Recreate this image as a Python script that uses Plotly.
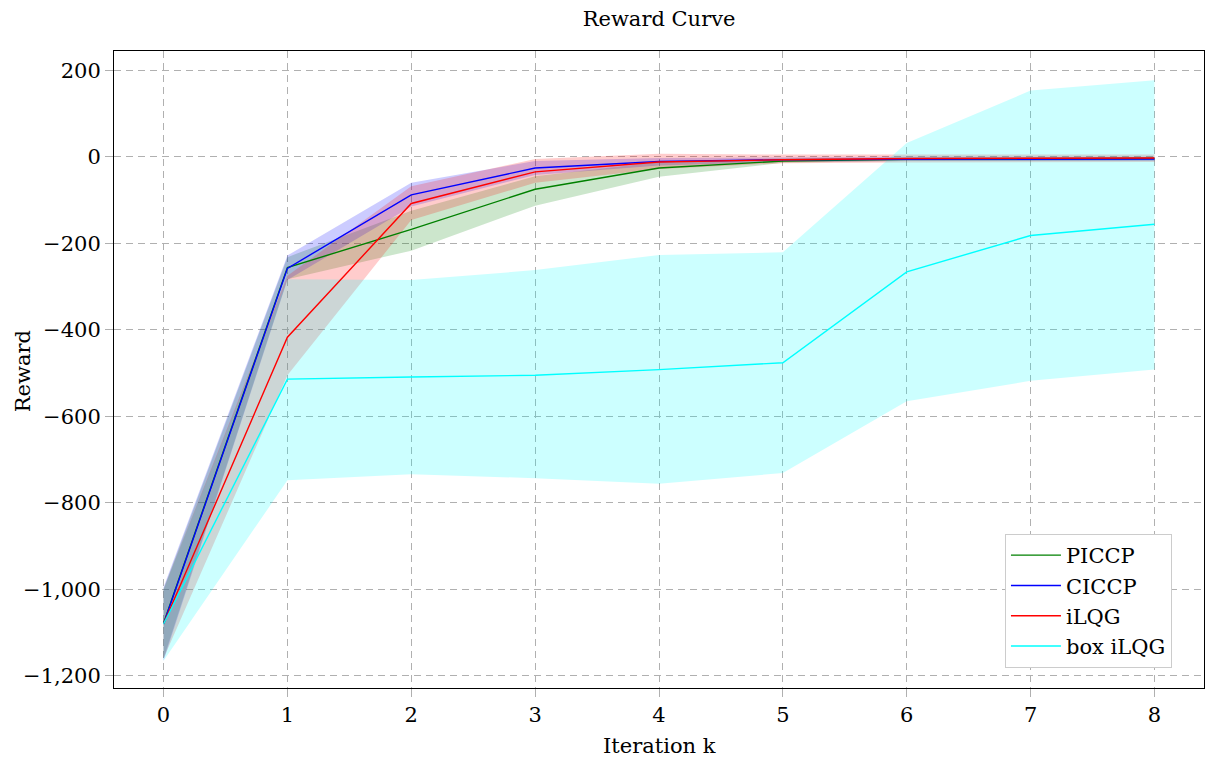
import plotly.graph_objects as go

# Iterations of the optimiser
iterations = [0, 1, 2, 3, 4, 5, 6, 7, 8]

# Mean reward and spread per method
piccp_mean = [-1078, -256, -168, -75, -26, -10, -6, -5, -4]
piccp_upper = [-1000, -232, -125, -45, -12, -4, -2, -2, -1]
piccp_lower = [-1160, -283, -217, -113, -46, -14, -10, -9, -8]

ciccp_mean = [-1080, -258, -88, -26, -11, -7, -6, -5, -5]
ciccp_upper = [-995, -228, -60, -10, -3, -1, 0, 0, 0]
ciccp_lower = [-1165, -285, -115, -42, -20, -12, -10, -10, -10]

ilqg_mean = [-1080, -417, -108, -35, -12, -7, -4, -3, -3]
ilqg_upper = [-1000, -275, -68, -5, 7, 5, 5, 5, 5]
ilqg_lower = [-1160, -505, -146, -60, -28, -15, -13, -12, -12]

box_mean = [-1080, -514, -509, -505, -492, -476, -266, -182, -156]
box_upper = [-1000, -283, -285, -262, -227, -221, 32, 153, 177]
box_lower = [-1165, -748, -734, -743, -756, -731, -565, -518, -492]

x_ticks = [0, 1, 2, 3, 4, 5, 6, 7, 8]
y_ticks = [-1200, -1000, -800, -600, -400, -200, 0, 200]


def tick_text(v):
    s = f"{abs(v):,}"
    return ("\u2212" + s) if v < 0 else s


FONT = "DejaVu Serif"

series = [
    ("PICCP", piccp_mean, piccp_upper, piccp_lower, "#008000", "rgba(0,128,0,0.2)"),
    ("CICCP", ciccp_mean, ciccp_upper, ciccp_lower, "#0000ff", "rgba(0,0,255,0.2)"),
    ("iLQG", ilqg_mean, ilqg_upper, ilqg_lower, "#ff0000", "rgba(255,0,0,0.2)"),
    ("box iLQG", box_mean, box_upper, box_lower, "#00ffff", "rgba(0,255,255,0.2)"),
]

fig = go.Figure()

# shaded spread bands
for name, mean, upper, lower, color, fill in series:
    fig.add_trace(go.Scatter(
        x=iterations + iterations[::-1],
        y=upper + lower[::-1],
        fill="toself",
        fillcolor=fill,
        line=dict(width=0),
        mode="lines",
        showlegend=False,
        hoverinfo="skip",
    ))

# mean curves
for name, mean, upper, lower, color, fill in series:
    fig.add_trace(go.Scatter(
        x=iterations,
        y=mean,
        mode="lines",
        name=name,
        line=dict(color=color, width=1.4),
    ))

axis_common = dict(
    showline=True,
    linecolor="black",
    linewidth=1,
    mirror=True,
    showgrid=True,
    gridcolor="#b0b0b0",
    gridwidth=1,
    griddash="7px,5px",
    zeroline=False,
    ticks="outside",
    ticklen=8,
    tickcolor="#b0b0b0",
    tickfont=dict(family=FONT, size=21, color="black"),
)

fig.update_xaxes(
    range=[-0.4, 8.4],
    tickvals=x_ticks,
    ticktext=[str(v) for v in x_ticks],
    **axis_common,
)
fig.update_yaxes(
    range=[-1228, 244.5],
    tickvals=y_ticks,
    ticktext=[tick_text(v) for v in y_ticks],
    **axis_common,
)

fig.update_layout(
    width=1206,
    height=760,
    margin=dict(l=114, r=2, t=51, b=72),
    paper_bgcolor="white",
    plot_bgcolor="white",
    font=dict(family=FONT, size=21, color="black"),
    title=dict(
        text="Reward Curve",
        x=0.5465, xanchor="center",
        y=1 - 19 / 760, yanchor="middle",
        font=dict(family=FONT, size=21, color="black"),
    ),
    legend=dict(
        x=0.9706, xanchor="right",
        y=0.0314, yanchor="bottom",
        bgcolor="white",
        bordercolor="#cccccc",
        borderwidth=1,
        itemwidth=50,
        font=dict(family=FONT, size=21, color="black"),
    ),
    annotations=[
        dict(text="Iteration k", xref="paper", yref="paper",
             x=0.5, y=-0.091, xanchor="center", yanchor="middle",
             showarrow=False, font=dict(family=FONT, size=21, color="black")),
        dict(text="Reward", xref="paper", yref="paper",
             x=-0.084, y=0.498, xanchor="center", yanchor="middle",
             textangle=-90, showarrow=False,
             font=dict(family=FONT, size=21, color="black")),
    ],
)

fig.write_html("out.html")
